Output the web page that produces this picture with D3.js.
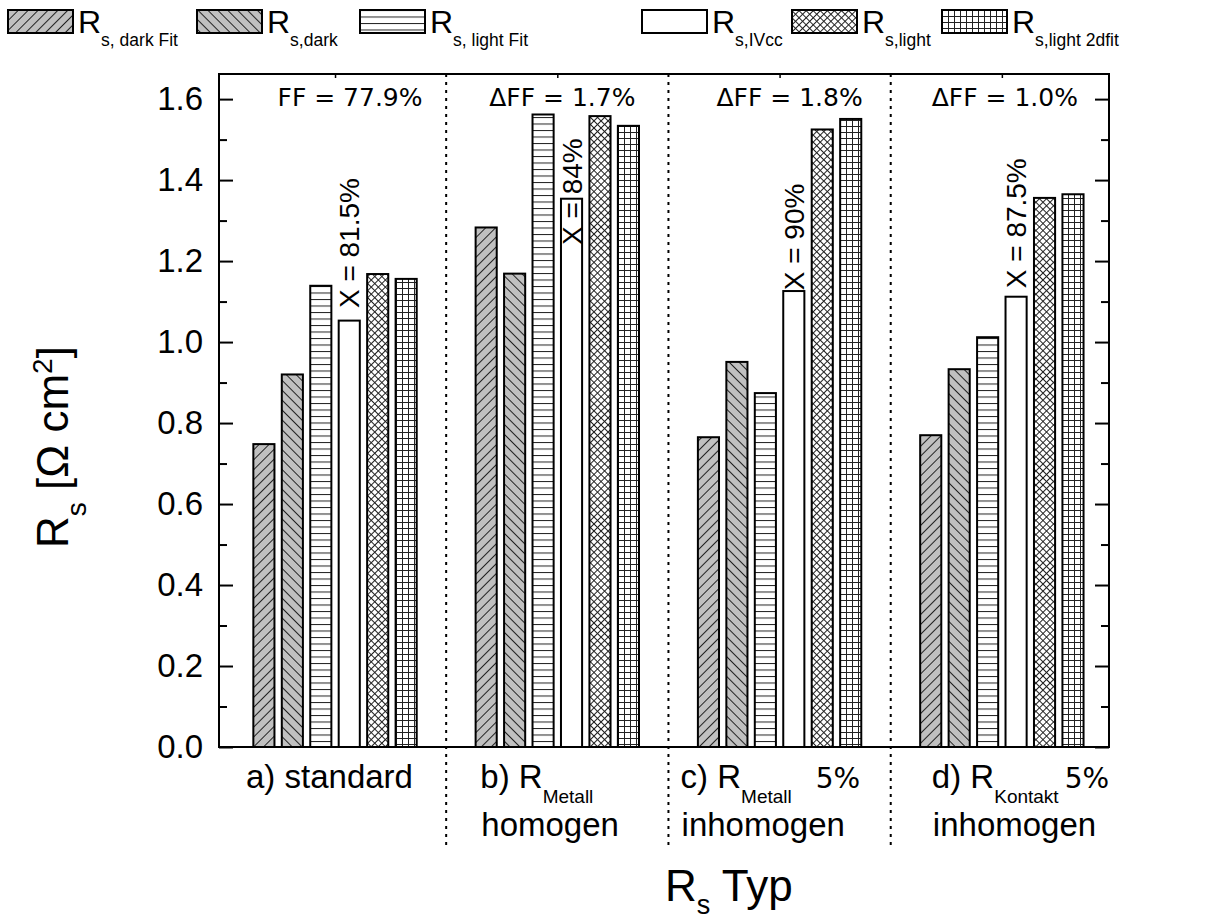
<!DOCTYPE html>
<html>
<head>
<meta charset="utf-8">
<script src="https://cdn.jsdelivr.net/npm/d3@7"></script>
<style>
  body { margin: 0; background: #fff; }
  text { font-family: "Liberation Sans", Arial, sans-serif; fill: #000; }
  .dv { font-family: "DejaVu Sans", sans-serif; }
</style>
</head>
<body>
<svg width="1207" height="920"></svg>
<script>
// data
var groups = ["a", "b", "c", "d"];
var seriesKeys = ["darkFit", "dark", "lightFit", "ivcc", "light", "light2dfit"];
var seriesMain = ["R", "R", "R", "R", "R", "R"];
var seriesSub = ["s, dark Fit", "s,dark", "s, light Fit", "s,IVcc", "s,light", "s,light 2dfit"];
var darkFit    = [0.748, 1.283, 0.765, 0.770];
var dark       = [0.920, 1.169, 0.951, 0.933];
var lightFit   = [1.139, 1.562, 0.874, 1.012];
var ivcc       = [1.053, 1.354, 1.126, 1.112];
var light      = [1.168, 1.558, 1.525, 1.356];
var light2dfit = [1.156, 1.534, 1.551, 1.365];
var ffLabels = ["FF = 77.9%", "\u0394FF = 1.7%", "\u0394FF = 1.8%", "\u0394FF = 1.0%"];
var xLabels = ["X = 81.5%", "X = 84%", "X = 90%", "X = 87.5%"];
var xLabelStart = [1.084, 1.24, 1.128, 1.133]; // y value where rotated label starts
var groupLine1 = ["a) standard", "b) R", "c) R", "d) R"];
var groupSub = ["", "Metall", "Metall", "Kontakt"];
var groupPct = ["", "", "5%", "5%"];
var groupLine2 = ["", "homogen", "inhomogen", "inhomogen"];
var yTicks = [0, 0.2, 0.4, 0.6, 0.8, 1.0, 1.2, 1.4, 1.6];

var values = [darkFit, dark, lightFit, ivcc, light, light2dfit];

var svg = d3.select("svg"),
    pLeft = 219, pRight = 1109, pTop = 74, pBottom = 747;

var x = d3.scaleLinear().domain([0.478, 4.482]).range([pLeft, pRight]);
var y = d3.scaleLinear().domain([0, 1.662]).range([pBottom, pTop]);
var step = 0.128, bw = 0.095;

// patterns
var defs = svg.append("defs");
function hatch(id, size, angle, bg, vert, horiz) {
    var p = defs.append("pattern").attr("id", id)
        .attr("patternUnits", "userSpaceOnUse")
        .attr("width", size).attr("height", size);
    if (angle) p.attr("patternTransform", "rotate(" + angle + ")");
    p.append("rect").attr("width", size).attr("height", size).attr("fill", bg);
    if (vert) p.append("line").attr("x1", 0.5).attr("x2", 0.5).attr("y1", 0).attr("y2", size)
        .attr("stroke", "#222").attr("stroke-width", 1);
    if (horiz) p.append("line").attr("y1", 0.5).attr("y2", 0.5).attr("x1", 0).attr("x2", size)
        .attr("stroke", "#222").attr("stroke-width", 1);
}
hatch("p0", 7, 45, "#c0c0c0", true, false);
hatch("p1", 7, -45, "#c0c0c0", true, false);
hatch("p2", 6.5, 0, "#fff", false, true);
defs.append("pattern").attr("id", "p3").attr("patternUnits", "userSpaceOnUse")
    .attr("width", 10).attr("height", 10)
    .append("rect").attr("width", 10).attr("height", 10).attr("fill", "#fff");
hatch("p4", 5, 45, "#fff", true, true);
hatch("p5", 6, 0, "#fff", true, true);

// dotted group dividers
svg.selectAll(".div").data([1.5, 2.5, 3.5]).enter().append("line")
    .attr("x1", function(d) { return x(d); }).attr("x2", function(d) { return x(d); })
    .attr("y1", pTop).attr("y2", 845)
    .attr("stroke", "#000").attr("stroke-width", 2).attr("stroke-dasharray", "3,5");

// bars
values.forEach(function(vals, i) {
    svg.selectAll(".bar" + i).data(vals).enter().append("rect")
        .attr("x", function(d, g) { return x(g + 1 + (i - 2.5) * step - bw / 2); })
        .attr("width", x(bw) - x(0))
        .attr("y", function(d) { return y(d); })
        .attr("height", function(d) { return y(0) - y(d); })
        .attr("fill", "url(#p" + i + ")")
        .attr("stroke", "#000").attr("stroke-width", 2);
});

// axes
var yMajor = d3.axisLeft(y).tickValues(yTicks).tickSize(-14).tickPadding(16).tickFormat(d3.format(".1f"));
var yMinor = d3.axisLeft(y).tickValues(d3.range(0.1, 1.65, 0.2)).tickSize(-8).tickFormat("");
svg.append("g").attr("transform", "translate(" + pLeft + ",0)").call(yMajor)
    .call(function(g) { g.select(".domain").remove(); g.selectAll("line").attr("stroke-width", 2); g.selectAll("text").style("font-size", "33px").attr("font-family", null); });
svg.append("g").attr("transform", "translate(" + pLeft + ",0)").call(yMinor)
    .call(function(g) { g.select(".domain").remove(); g.selectAll("line").attr("stroke-width", 2); });
svg.append("g").attr("transform", "translate(" + pRight + ",0)").call(d3.axisRight(y).tickValues(yTicks).tickSize(-14).tickFormat(""))
    .call(function(g) { g.select(".domain").remove(); g.selectAll("line").attr("stroke-width", 2); });
svg.append("g").attr("transform", "translate(" + pRight + ",0)").call(d3.axisRight(y).tickValues(d3.range(0.1, 1.65, 0.2)).tickSize(-8).tickFormat(""))
    .call(function(g) { g.select(".domain").remove(); g.selectAll("line").attr("stroke-width", 2); });
svg.append("g").attr("transform", "translate(0," + pTop + ")").call(d3.axisTop(x).tickValues([1, 2, 3, 4]).tickSize(-4).tickFormat(""))
    .call(function(g) { g.select(".domain").remove(); g.selectAll("line").attr("stroke-width", 1.5); });

svg.append("rect").attr("x", pLeft).attr("y", pTop).attr("width", pRight - pLeft).attr("height", pBottom - pTop)
    .attr("fill", "none").attr("stroke", "#000").attr("stroke-width", 2);

// FF annotations
var ffDx = [15, 5, 10, 3];
svg.selectAll(".ff").data(ffLabels).enter().append("text").attr("class", "dv")
    .attr("x", function(d, i) { return x(i + 1) + ffDx[i]; }).attr("y", y(1.583))
    .attr("text-anchor", "middle").style("font-size", "25px").text(function(d) { return d; });

// rotated X labels
svg.selectAll(".xl").data(xLabels).enter().append("text")
    .attr("transform", function(d, i) { return "translate(" + (x(i + 1 + 0.5 * step) + 10) + "," + y(xLabelStart[i]) + ") rotate(-90)"; })
    .style("font-size", "28px").text(function(d) { return d; });

// group labels
var labelDx = [-89, -77, -99, -70];
var pctDx = [0, 0, 24, 6];
groups.forEach(function(g, i) {
    var t = svg.append("text").attr("x", x(i + 1) + labelDx[i]).attr("y", 788).style("font-size", "33px");
    t.append("tspan").text(groupLine1[i]);
    if (groupSub[i]) t.append("tspan").attr("dy", 15).style("font-size", "19px").text(groupSub[i]);
    if (groupPct[i]) t.append("tspan").attr("class", "dv").attr("dy", -15).attr("dx", pctDx[i]).style("font-size", "28px").text(groupPct[i]);
    if (groupLine2[i]) svg.append("text").attr("x", x(i + 1) + labelDx[i] + 1).attr("y", 836)
        .style("font-size", "33px").text(groupLine2[i]);
});

// axis titles
var yt = svg.append("text").attr("transform", "translate(68,447) rotate(-90)")
    .attr("text-anchor", "middle").style("font-size", "44px");
yt.append("tspan").text("R");
yt.append("tspan").attr("dy", 18).style("font-size", "28px").text("s");
yt.append("tspan").attr("dy", -18).text(" [\u03A9 cm");
yt.append("tspan").attr("dy", -16).style("font-size", "28px").text("2");
yt.append("tspan").attr("dy", 16).text("]");

var xt = svg.append("text").attr("x", 665).attr("y", 901).style("font-size", "44px");
xt.append("tspan").text("R");
xt.append("tspan").attr("dy", 13).style("font-size", "27px").text("s");
xt.append("tspan").attr("dy", -13).text(" Typ");

// legend
var legX = [8, 197, 360, 642, 792, 942];
var leg = svg.selectAll(".leg").data(seriesKeys).enter().append("g")
    .attr("transform", function(d, i) { return "translate(" + legX[i] + ",10)"; });
leg.append("rect").attr("width", 65).attr("height", 23)
    .attr("fill", function(d, i) { return "url(#p" + i + ")"; })
    .attr("stroke", "#000").attr("stroke-width", 2);
var lt = leg.append("text").attr("x", 70).attr("y", 23).style("font-size", "32px");
lt.append("tspan").text(function(d, i) { return seriesMain[i]; });
lt.append("tspan").attr("dy", 13).style("font-size", "17.5px").text(function(d, i) { return seriesSub[i]; });
</script>
</body>
</html>
